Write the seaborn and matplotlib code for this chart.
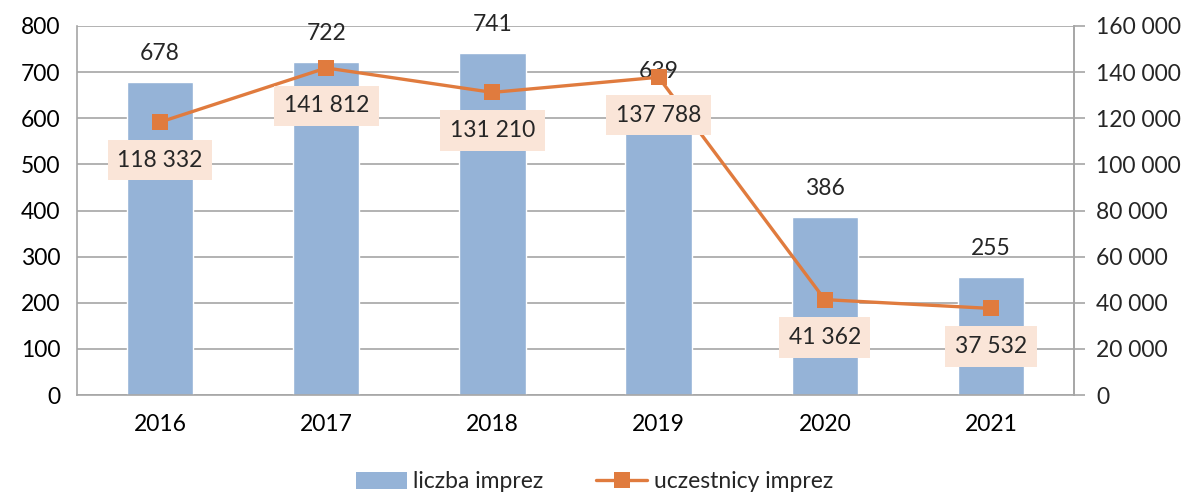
import matplotlib
matplotlib.use("Agg")
import matplotlib.pyplot as plt
import seaborn as sns
import pandas as pd
import numpy as np
from matplotlib.patches import Patch
from matplotlib.lines import Line2D

years = ["2016", "2017", "2018", "2019", "2020", "2021"]
liczba_imprez = [678, 722, 741, 639, 386, 255]
uczestnicy_imprez = [118332, 141812, 131210, 137788, 41362, 37532]
left_ticks = [0, 100, 200, 300, 400, 500, 600, 700, 800]
right_ticks = [0, 20000, 40000, 60000, 80000, 100000, 120000, 140000, 160000]

sns.set_style("white")
plt.rcParams['font.family'] = ['Lato', 'DejaVu Sans']
FS = 16.5

bar_color = "#95b3d7"
line_color = "#e07b3e"
box_color = "#fae5d8"
grid_color = "#a6a6a6"

def fmt(v):
    return f"{v:,}".replace(",", " ")

df = pd.DataFrame({"rok": years, "liczba": liczba_imprez,
                   "uczestnicy": uczestnicy_imprez, "pos": np.arange(len(years))})

fig = plt.figure(figsize=(11.89, 4.95), dpi=100)
ax = fig.add_axes([77/1189, 1-395/495, (1074-77)/1189, (395-26)/495])
sns.barplot(data=df, x="rok", y="liczba", color=bar_color, width=0.4,
            saturation=1, ax=ax, zorder=2)
ax.set_xlim(-0.5, 5.5)
ax.set_ylim(0, 800)
ax.set_yticks(left_ticks)
ax.set_yticklabels([str(t) for t in left_ticks], fontsize=FS)
ax.set_xticks(range(len(years)))
ax.set_xticklabels(years, fontsize=FS)
ax.set_xlabel("")
ax.set_ylabel("")
ax.yaxis.grid(True, color=grid_color, linewidth=1.2, zorder=0)
ax.set_axisbelow(True)
ax.spines["top"].set_visible(False)
for s in ["left", "bottom", "right"]:
    ax.spines[s].set_color(grid_color)
    ax.spines[s].set_linewidth(1.2)
ax.tick_params(axis="y", length=0, pad=12, labelcolor="black")
ax.tick_params(axis="x", length=0, pad=14, labelcolor="black")

for i, v in enumerate(liczba_imprez):
    ax.annotate(str(v), (i, v), xytext=(0, 18), textcoords="offset pixels",
                ha="center", va="bottom", fontsize=FS, zorder=5)

ax2 = ax.twinx()
sns.lineplot(data=df, x="pos", y="uczestnicy", color=line_color, linewidth=2.4,
             marker="s", markersize=12, markeredgewidth=0, ax=ax2, zorder=3)
ax2.set_ylim(0, 160000)
ax2.set_yticks(right_ticks)
ax2.set_yticklabels([fmt(t) for t in right_ticks], fontsize=FS)
ax2.set_ylabel("")
ax2.set_xlabel("")
ax2.set_xlim(-0.5, 5.5)
for s in ["top", "left", "bottom"]:
    ax2.spines[s].set_visible(False)
ax2.spines["right"].set_color(grid_color)
ax2.spines["right"].set_linewidth(1.2)
ax2.tick_params(axis="y", length=8, width=1.2, color=grid_color, pad=8)

for i, v in enumerate(uczestnicy_imprez):
    ax2.annotate(fmt(v), (i, v), xytext=(0, -38), textcoords="offset pixels",
                 ha="center", va="center", fontsize=FS, zorder=6,
                 bbox=dict(boxstyle="square,pad=0.42", fc=box_color, ec="none"))

handles = [Patch(facecolor=bar_color, edgecolor="none", label="liczba imprez"),
           Line2D([0], [0], color=line_color, linewidth=2.4, marker="s",
                  markersize=12, markeredgewidth=0, label="uczestnicy imprez")]
fig.legend(handles=handles, loc="center", bbox_to_anchor=(0.5, 1-482/495),
           ncol=2, frameon=False, fontsize=FS, handlelength=2.2,
           columnspacing=2.3, handletextpad=0.3)

fig.savefig("out.png", dpi=100)
